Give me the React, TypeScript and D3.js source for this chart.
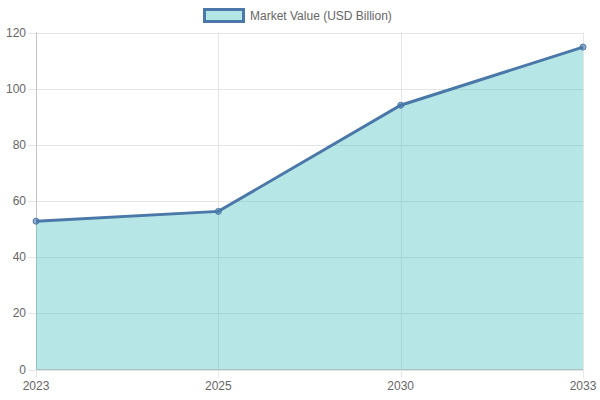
import * as d3 from "d3";

const years = ["2023", "2025", "2030", "2033"];
const marketValue = [52.8, 56.3, 94.1, 114.8];
const yTicks = [0, 20, 40, 60, 80, 100, 120];
const seriesLabel = "Market Value (USD Billion)";

export default function App() {
  const width = 600,
    height = 400;
  const plot = { left: 36, right: 583, top: 32.5, bottom: 369.5 };
  const font = "'Liberation Sans', Arial, Helvetica, sans-serif";

  const x = d3
    .scalePoint<string>()
    .domain(years)
    .range([plot.left, plot.right]);
  const y = d3.scaleLinear().domain([0, 120]).range([plot.bottom, plot.top]);

  const pts = years.map((yr, i) => ({ yr, v: marketValue[i] }));
  const line = d3
    .line<{ yr: string; v: number }>()
    .x((d) => x(d.yr)!)
    .y((d) => y(d.v));
  const area = d3
    .area<{ yr: string; v: number }>()
    .x((d) => x(d.yr)!)
    .y0(y(0))
    .y1((d) => y(d.v));

  const lineCol = "#4a78a8";
  const fillCol = "rgba(75,192,192,0.4)";
  const grid = "#e5e5e5";
  const textCol = "#666";

  return (
    <svg
      width={width}
      height={height}
      style={{ position: "absolute", left: 0, top: 0 }}
      fontFamily={font}
    >
      <rect width={width} height={height} fill="#fff" />
      {/* legend */}
      <rect
        x={204.5}
        y={9.5}
        width={39}
        height={12}
        fill="#b3e6e6"
        stroke={lineCol}
        strokeWidth={3}
      />
      <text x={250} y={20} fontSize={12} fill={textCol}>
        {seriesLabel}
      </text>

      {/* horizontal grid + y ticks */}
      {yTicks.map((t) => (
        <g key={t}>
          <line
            x1={plot.left - 8}
            x2={plot.right}
            y1={Math.round(y(t)) + 0.5}
            y2={Math.round(y(t)) + 0.5}
            stroke={grid}
          />
          <text
            x={plot.left - 10}
            y={y(t) + 4}
            fontSize={12}
            fill={textCol}
            textAnchor="end"
          >
            {t}
          </text>
        </g>
      ))}
      {/* vertical grid + x ticks */}
      {years.map((yr) => (
        <g key={yr}>
          <line
            x1={Math.round(x(yr)!) + 0.5}
            x2={Math.round(x(yr)!) + 0.5}
            y1={plot.top}
            y2={plot.bottom + 8}
            stroke={grid}
          />
          <text
            x={x(yr)!}
            y={plot.bottom + 20}
            fontSize={12}
            fill={textCol}
            textAnchor="middle"
          >
            {yr}
          </text>
        </g>
      ))}
      {/* axis borders */}
      <line
        x1={plot.left + 0.5}
        x2={plot.left + 0.5}
        y1={plot.top}
        y2={plot.bottom}
        stroke="#c4c4c4"
      />
      <line
        x1={plot.left}
        x2={plot.right}
        y1={plot.bottom}
        y2={plot.bottom}
        stroke="#c4c4c4"
      />

      <path d={area(pts)!} fill={fillCol} />
      <path d={line(pts)!} fill="none" stroke={lineCol} strokeWidth={3} />
      {pts.map((d) => (
        <circle
          key={d.yr}
          cx={x(d.yr)!}
          cy={y(d.v)}
          r={3}
          fill="rgba(74,120,168,0.6)"
          stroke={lineCol}
          strokeWidth={1}
        />
      ))}
    </svg>
  );
}
